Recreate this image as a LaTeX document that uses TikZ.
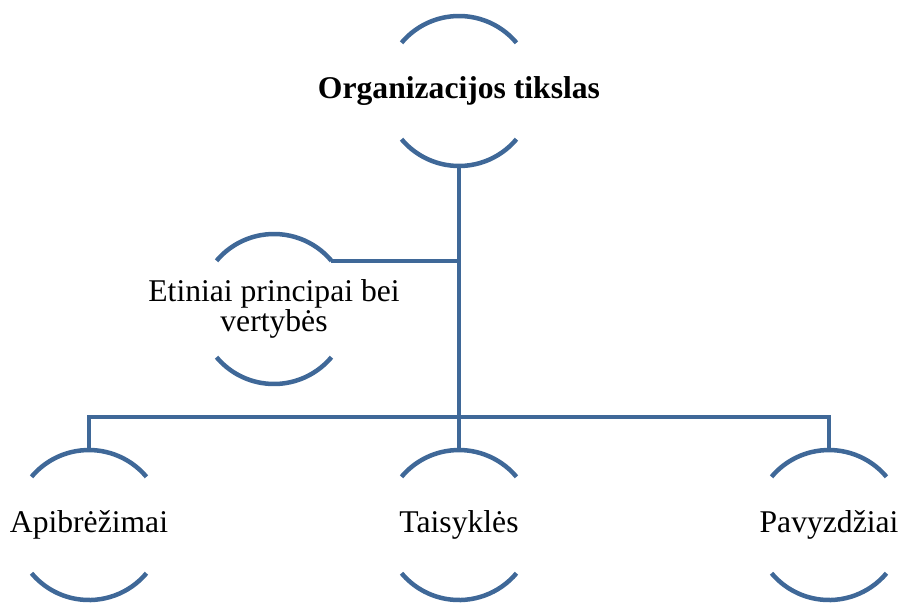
\documentclass[tikz,border=0pt]{standalone}
\usepackage{fontspec}
\setmainfont{Liberation Serif}
\usetikzlibrary{positioning,calc}
\definecolor{smartblue}{HTML}{3F6898}

\begin{document}
\begin{tikzpicture}[x=0.03cm,y=0.03cm,node distance=8.52cm]
    % Define styles
    \tikzstyle{ring} = [circle, minimum size=4.5cm, inner sep=0pt, outer sep=0pt]
    \tikzstyle{caption} = [font=\fontsize{27}{25.5}\selectfont, align=center, text=black, inner sep=0pt]
    \tikzstyle{headcaption} = [caption, font=\fontsize{27}{25.5}\selectfont\bfseries]
    \tikzstyle{line} = [line width=0.135cm, draw=smartblue]
    \useasboundingbox (0,0) rectangle (901,603);

    % Nodes
    \node (goal) [ring, label={[headcaption]center:Organizacijos tikslas}] at (459,512) {};
    \node (ethics) [ring, label={[caption]center:Etiniai principai bei\\vertybės}] at (274,294) {};
    \node (rules) [ring, below=of goal, label={[caption]center:Taisyklės}] {};
    \node (defs) [ring, left=6.6cm of rules, label={[caption]center:Apibrėžimai}] {};
    \node (examples) [ring, right=6.6cm of rules, label={[caption]center:Pavyzdžiai}] {};
    \coordinate (bus) at (459,186);

    % Arcs
    \foreach \n in {goal,ethics,rules,defs,examples} {
        \draw [line] (\n.40) arc[start angle=40, end angle=140, radius=2.25cm];
        \draw [line] (\n.-40) arc[start angle=-40, end angle=-140, radius=2.25cm];
    }

    % Connectors
    \draw [line] (goal.south) -- (rules.north);
    \draw [line] (ethics.40) -- (ethics.40 -| goal.south);
    \draw [line] (defs.north) |- (bus) -| (examples.north);
\end{tikzpicture}
\end{document}
